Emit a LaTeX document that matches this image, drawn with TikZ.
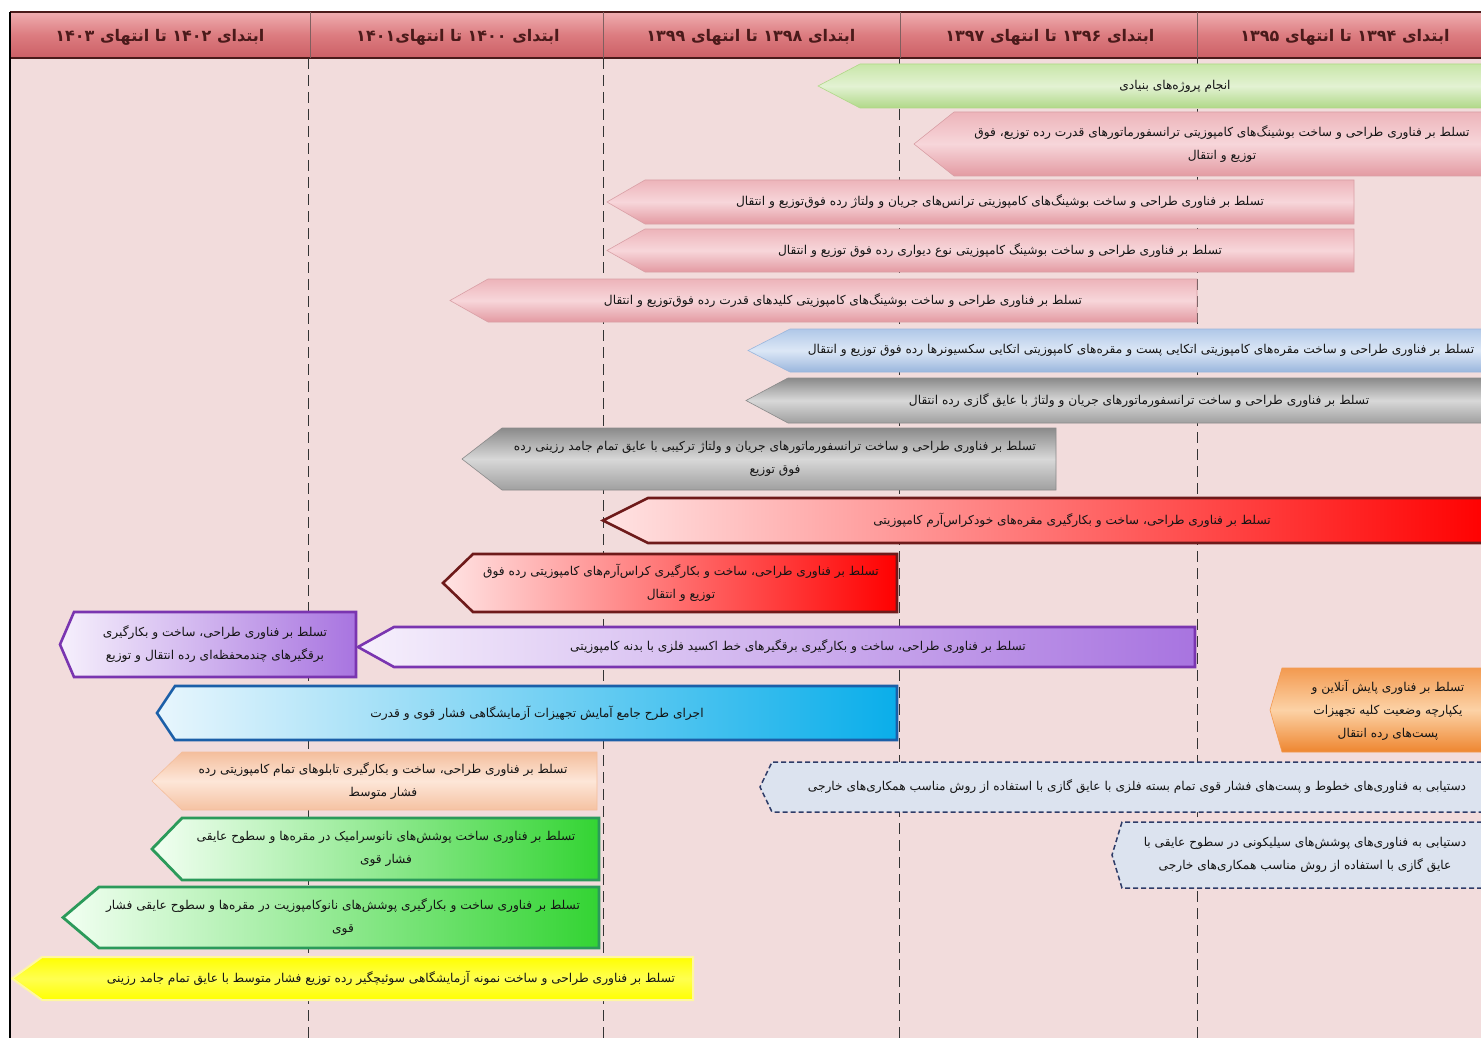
\documentclass[tikz,border=0pt]{standalone}
\usepackage{fontspec}
\newfontfamily\fafont[Script=Arabic]{DejaVu Sans}
\TeXXeTstate=1
\newcommand\fatxt[1]{\beginR #1\endR}
\newcommand\fanum[1]{\beginL#1\endL{}}

\definecolor{bodybg}{HTML}{F2DCDC}
\definecolor{hdA}{HTML}{EFADB0}
\definecolor{hdB}{HTML}{DC7C80}
\definecolor{hdC}{HTML}{CC5F65}
\definecolor{hdline}{HTML}{4A1A1A}
\definecolor{pkA}{HTML}{EDB4BA}
\definecolor{pkB}{HTML}{F7D6DA}
\definecolor{pkC}{HTML}{E39AA2}
\definecolor{pkD}{HTML}{D9A0A6}
\definecolor{gnA}{HTML}{C8E6A8}
\definecolor{gnB}{HTML}{E3F2D3}
\definecolor{gnC}{HTML}{B0D888}
\definecolor{blA}{HTML}{B0C8E8}
\definecolor{blB}{HTML}{DCE7F6}
\definecolor{blC}{HTML}{9AB6DD}
\definecolor{gyA}{HTML}{8A8A8A}
\definecolor{gyB}{HTML}{D8D8D8}
\definecolor{gyC}{HTML}{A0A0A0}
\definecolor{rdA}{HTML}{FFE4E4}
\definecolor{rdB}{HTML}{FF0000}
\definecolor{rdD}{HTML}{6E1A1A}
\definecolor{ppA}{HTML}{F6F0FC}
\definecolor{ppB}{HTML}{A874E0}
\definecolor{ppD}{HTML}{7A35B0}
\definecolor{cyA}{HTML}{E8F6FD}
\definecolor{cyB}{HTML}{0AAEEA}
\definecolor{cyD}{HTML}{1B5FA8}
\definecolor{orA}{HTML}{F39A50}
\definecolor{orB}{HTML}{FCD2A6}
\definecolor{orC}{HTML}{EE8630}
\definecolor{peA}{HTML}{F4BE9C}
\definecolor{peB}{HTML}{FDE6D8}
\definecolor{peC}{HTML}{F5C2A2}
\definecolor{lgA}{HTML}{F2FFF2}
\definecolor{lgB}{HTML}{33D433}
\definecolor{lgD}{HTML}{2B9A5A}
\definecolor{ylA}{HTML}{FFFF00}
\definecolor{ylB}{HTML}{FFFF50}
\definecolor{ylD}{HTML}{FFF7A0}
\definecolor{dsA}{HTML}{DCE3EF}
\definecolor{dsD}{HTML}{2E3C68}
\definecolor{txtc}{HTML}{141414}

% a left-pointing bar: name, x-left, x-right, y-top, y-bottom, tip depth, style, text x, text
\newcommand\tlbar[9]{%
  \pgfmathsetmacro\tlA{#2+#6}%
  \pgfmathsetmacro\tlM{(#4+#5)/2}%
  \path[#7] (#3,#4) -- (\tlA,#4) -- (#2,\tlM) -- (\tlA,#5) -- (#3,#5) -- cycle;%
  \node[txt] (#1) at (#8,\tlM) {#9};%
}

\begin{document}
\begin{tikzpicture}[x=1pt,y=-1pt,
  txt/.style={inner sep=0pt,align=center,text=txtc,font=\fafont\fontsize{12.2}{23}\selectfont},
  hdtxt/.style={inner sep=0pt,text=hdline,font=\fafont\bfseries\fontsize{16}{18}\selectfont},
  colline/.style={draw=black!80,line width=1pt,dash pattern=on 11pt off 6pt},
  pinkbar/.style={top color=pkA,bottom color=pkC,middle color=pkB,draw=pkD,line width=0.6pt},
  greenbar/.style={top color=gnA,bottom color=gnC,middle color=gnB,draw=gnC,line width=0.6pt},
  bluebar/.style={top color=blA,bottom color=blC,middle color=blB,draw=blC,line width=0.6pt},
  graybar/.style={top color=gyA,bottom color=gyC,middle color=gyB,draw=gyA,line width=0.6pt},
  redbar/.style={left color=rdA,right color=rdB,draw=rdD,line width=2.6pt},
  purplebar/.style={left color=ppA,right color=ppB,draw=ppD,line width=2.6pt},
  cyanbar/.style={left color=cyA,right color=cyB,draw=cyD,line width=2.6pt},
  orangebar/.style={top color=orA,bottom color=orC,middle color=orB,draw=orA,line width=0.6pt},
  peachbar/.style={top color=peA,bottom color=peC,middle color=peB,draw=peA,line width=0.6pt},
  limebar/.style={left color=lgA,right color=lgB,draw=lgD,line width=2.8pt},
  yellowbar/.style={top color=ylA,bottom color=ylA,middle color=ylB,draw=ylD,line width=2pt},
  dashbar/.style={fill=dsA,draw=dsD,line width=1.5pt,dash pattern=on 5pt off 3pt},
]
\useasboundingbox (0,0) rectangle (1481,1038);
\fill[white] (0,0) rectangle (1481,1038);
\fill[bodybg] (10,58) rectangle (1481,1038);

% header band
\shade[top color=hdA,bottom color=hdC,middle color=hdB] (10,12) rectangle (1481,58);
\draw[hdline,line width=1.2pt] (10,12) -- (1481,12);
\draw[hdline,line width=1.6pt] (10,58) -- (1481,58);
\foreach \sx in {310,603,900,1197} \draw[hdline!70,line width=1pt] (\sx,12) -- (\sx,58);

\node[hdtxt] (h1) at (1345,37) {\fatxt{ابتدای \fanum{۱۳۹۴} تا انتهای \fanum{۱۳۹۵}}};
\node[hdtxt] (h2) at (1050,37) {\fatxt{ابتدای \fanum{۱۳۹۶} تا انتهای \fanum{۱۳۹۷}}};
\node[hdtxt] (h3) at (751,37) {\fatxt{ابتدای \fanum{۱۳۹۸} تا انتهای \fanum{۱۳۹۹}}};
\node[hdtxt] (h4) at (458,37) {\fatxt{ابتدای \fanum{۱۴۰۰} تا انتهای\fanum{۱۴۰۱}}};
\node[hdtxt] (h5) at (160,37) {\fatxt{ابتدای \fanum{۱۴۰۲} تا انتهای \fanum{۱۴۰۳}}};

% column guide lines
\foreach \cx in {308,603,899,1197} \draw[colline] (\cx,58) -- (\cx,1038);

% bars
\tlbar{b1}{818}{1490}{64}{108}{42}{greenbar}{1175}{\fatxt{انجام پروژه^^^^200cهای بنیادی}}
\tlbar{b2}{914}{1490}{112}{176}{40}{pinkbar}{1222}{\fatxt{تسلط بر فناوری طراحی و ساخت بوشینگ^^^^200cهای کامپوزیتی ترانسفورماتورهای قدرت رده توزیع، فوق}\\\fatxt{توزیع و انتقال}}
\tlbar{b3}{607}{1354}{180}{224}{38}{pinkbar}{1000}{\fatxt{تسلط بر فناوری طراحی و ساخت بوشینگ^^^^200cهای کامپوزیتی ترانس^^^^200cهای جریان و ولتاژ رده فوق^^^^200cتوزیع و انتقال}}
\tlbar{b4}{607}{1354}{229}{272}{38}{pinkbar}{1000}{\fatxt{تسلط بر فناوری طراحی و ساخت بوشینگ کامپوزیتی نوع دیواری رده فوق توزیع و انتقال}}
\tlbar{b5}{450}{1197}{279}{322}{38}{pinkbar}{843}{\fatxt{تسلط بر فناوری طراحی و ساخت بوشینگ^^^^200cهای کامپوزیتی کلیدهای قدرت رده فوق^^^^200cتوزیع و انتقال}}
\tlbar{b6}{748}{1490}{329}{372}{42}{bluebar}{1141}{\fatxt{تسلط بر فناوری طراحی و ساخت مقره^^^^200cهای کامپوزیتی اتکایی پست و مقره^^^^200cهای کامپوزیتی اتکایی سکسیونرها رده فوق توزیع و انتقال}}
\tlbar{b7}{746}{1490}{378}{423}{42}{graybar}{1139}{\fatxt{تسلط بر فناوری طراحی و ساخت ترانسفورماتورهای جریان و ولتاژ با عایق گازی رده انتقال}}
\tlbar{b8}{462}{1056}{428}{490}{40}{graybar}{775}{\fatxt{تسلط بر فناوری طراحی و ساخت ترانسفورماتورهای جریان و ولتاژ ترکیبی با عایق تمام جامد رزینی رده}\\\fatxt{فوق توزیع}}
\tlbar{b9}{603}{1490}{498}{543}{45}{redbar}{1072}{\fatxt{تسلط بر فناوری طراحی، ساخت و بکارگیری مقره^^^^200cهای خودکراس^^^^200cآرم کامپوزیتی}}
\tlbar{b10}{443}{897}{554}{612}{30}{redbar}{681}{\fatxt{تسلط بر فناوری طراحی، ساخت و بکارگیری کراس^^^^200cآرم^^^^200cهای کامپوزیتی رده فوق}\\\fatxt{توزیع و انتقال}}
\tlbar{b11}{60}{356}{612}{677}{14}{purplebar}{215}{\fatxt{تسلط بر فناوری طراحی، ساخت و بکارگیری}\\\fatxt{برقگیرهای چندمحفظه^^^^200cای رده انتقال و توزیع}}
\tlbar{b12}{358}{1195}{627}{667}{36}{purplebar}{798}{\fatxt{تسلط بر فناوری طراحی، ساخت و بکارگیری برقگیرهای خط اکسید فلزی با بدنه کامپوزیتی}}
\tlbar{b13}{157}{897}{686}{740}{18}{cyanbar}{537}{\fatxt{اجرای طرح جامع آمایش تجهیزات آزمایشگاهی فشار قوی و قدرت}}
\tlbar{b14}{1270}{1490}{668}{752}{12}{orangebar}{1388}{\fatxt{تسلط بر فناوری پایش آنلاین و}\\\fatxt{یکپارچه وضعیت کلیه تجهیزات}\\\fatxt{پست^^^^200cهای رده انتقال}}
\tlbar{b15}{760}{1490}{762}{812}{12}{dashbar}{1137}{\fatxt{دستیابی به فناوری^^^^200cهای خطوط و پست^^^^200cهای فشار قوی تمام بسته فلزی با عایق گازی با استفاده از روش مناسب همکاری^^^^200cهای خارجی}}
\tlbar{b16}{1112}{1490}{822}{888}{10}{dashbar}{1305}{\fatxt{دستیابی به فناوری^^^^200cهای پوشش^^^^200cهای سیلیکونی در سطوح عایقی با}\\\fatxt{عایق گازی با استفاده از روش مناسب همکاری^^^^200cهای خارجی}}
\tlbar{b17}{152}{597}{752}{810}{30}{peachbar}{383}{\fatxt{تسلط بر فناوری طراحی، ساخت و بکارگیری تابلوهای تمام کامپوزیتی رده}\\\fatxt{فشار متوسط}}
\tlbar{b18}{152}{599}{818}{880}{30}{limebar}{386}{\fatxt{تسلط بر فناوری ساخت پوشش^^^^200cهای نانوسرامیک در مقره^^^^200cها و سطوح عایقی}\\\fatxt{فشار قوی}}
\tlbar{b19}{63}{599}{887}{948}{36}{limebar}{343}{\fatxt{تسلط بر فناوری ساخت و بکارگیری پوشش^^^^200cهای نانوکامپوزیت در مقره^^^^200cها و سطوح عایقی فشار}\\\fatxt{قوی}}
\tlbar{b20}{12}{693}{957}{1000}{30}{yellowbar}{391}{\fatxt{تسلط بر فناوری طراحی و ساخت نمونه آزمایشگاهی سوئیچگیر رده توزیع فشار متوسط با عایق تمام جامد رزینی}}

% left frame edge
\draw[black,line width=1.5pt] (10,12) -- (10,1038);
\end{tikzpicture}
\end{document}
